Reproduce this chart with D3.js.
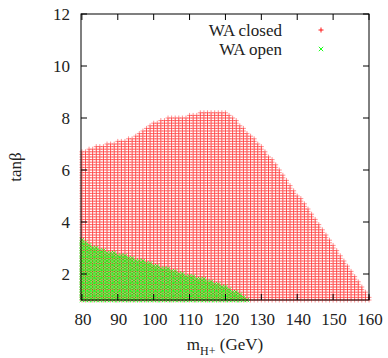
<!DOCTYPE html>
<html>
<head>
<meta charset="utf-8">
<script src="https://cdn.jsdelivr.net/npm/d3@7"></script>
<style>
  body { margin: 0; background: #fff; }
</style>
</head>
<body>
<svg id="chart" width="388" height="358" font-family="'Liberation Serif', 'DejaVu Serif', serif"></svg>
<script>
// scan grid in m_H+ (GeV), 1 GeV steps
const massScan = d3.range(80, 161, 1);
// upper tanβ edge of the "WA closed" scan at each mass, 80..160
const closedMax = [6.7, 6.75, 6.8, 6.85, 6.9, 6.9, 6.95, 7.0, 7.0, 7.05,
  7.1, 7.1, 7.15, 7.2, 7.25, 7.3, 7.4, 7.5, 7.6, 7.7,
  7.8, 7.85, 7.9, 7.95, 8.0, 8.0, 8.0, 8.05, 8.05, 8.05,
  8.1, 8.1, 8.15, 8.2, 8.2, 8.25, 8.25, 8.25, 8.25, 8.2,
  8.2, 8.15, 8.05, 7.9, 7.75, 7.6, 7.47, 7.33, 7.2, 7.05,
  6.9, 6.77, 6.58, 6.4, 6.2, 6.02, 5.83, 5.64, 5.46, 5.27,
  5.08, 4.9, 4.7, 4.52, 4.33, 4.15, 3.96, 3.76, 3.55, 3.35,
  3.15, 2.95, 2.75, 2.55, 2.35, 2.15, 1.95, 1.75, 1.55, 1.35, 1.15];
// upper tanβ edge of the "WA open" scan, 80..126
const openMax = [3.3, 3.22, 3.15, 3.07, 3.0, 2.93, 2.9, 2.87, 2.84, 2.8,
  2.77, 2.73, 2.7, 2.66, 2.63, 2.59, 2.55, 2.5, 2.45, 2.4,
  2.36, 2.32, 2.28, 2.24, 2.2, 2.16, 2.12, 2.07, 2.02, 1.98,
  1.95, 1.91, 1.88, 1.84, 1.8, 1.75, 1.7, 1.65, 1.6, 1.55,
  1.5, 1.45, 1.38, 1.3, 1.2, 1.12, 1.05];
const tanbMin = 1.0, tanbStep = 0.1;
const xTicks = [80, 90, 100, 110, 120, 130, 140, 150, 160];
const yTicks = [2, 4, 6, 8, 10, 12];
const seriesNames = ["WA closed", "WA open"];

const svg = d3.select("#chart");
const pLeft = 81, pRight = 369, pTop = 14, pBottom = 300;

const x = d3.scaleLinear().domain([79.75, 160]).range([pLeft, pRight]);
const y = d3.scaleLinear().domain([1, 12]).range([pBottom, pTop]);

function scanPoints(maxArr) {
  let pts = [];
  maxArr.forEach((mx, i) => {
    for (let k = 0; tanbMin + k * tanbStep <= mx + 1e-9; k++) {
      pts.push([massScan[i], tanbMin + k * tanbStep]);
    }
  });
  return pts;
}

const plusPath = "M-2.5,0H2.5M0,-2.5V2.5";
const crossPath = "M-2.2,-2.2L2.2,2.2M-2.2,2.2L2.2,-2.2";

svg.append("g")
  .selectAll("path")
  .data(scanPoints(closedMax))
  .enter().append("path")
    .attr("transform", d => "translate(" + x(d[0]) + "," + y(d[1]) + ")")
    .attr("d", plusPath)
    .attr("stroke", "#ff0000")
    .attr("stroke-opacity", 0.55)
    .attr("stroke-width", 0.8)
    .attr("fill", "none");

svg.append("g")
  .selectAll("path")
  .data(scanPoints(openMax))
  .enter().append("path")
    .attr("transform", d => "translate(" + x(d[0]) + "," + y(d[1]) + ")")
    .attr("d", crossPath)
    .attr("stroke", "#00ff00")
    .attr("stroke-opacity", 0.85)
    .attr("stroke-width", 0.9)
    .attr("fill", "none");

// frame
svg.append("rect")
  .attr("x", pLeft).attr("y", pTop)
  .attr("width", pRight - pLeft).attr("height", pBottom - pTop)
  .attr("fill", "none").attr("stroke", "#000").attr("stroke-width", 1);

// ticks (inward, mirrored)
const tickLen = 6;
xTicks.forEach(t => {
  svg.append("line").attr("x1", x(t)).attr("x2", x(t))
    .attr("y1", pBottom).attr("y2", pBottom - tickLen).attr("stroke", "#000");
  svg.append("line").attr("x1", x(t)).attr("x2", x(t))
    .attr("y1", pTop).attr("y2", pTop + tickLen).attr("stroke", "#000");
  svg.append("text").attr("x", x(t) + 1).attr("y", 325)
    .attr("text-anchor", "middle").attr("font-size", 17).attr("fill", "#222").text(t);
});
yTicks.forEach(t => {
  svg.append("line").attr("x1", pLeft).attr("x2", pLeft + tickLen)
    .attr("y1", y(t)).attr("y2", y(t)).attr("stroke", "#000");
  svg.append("line").attr("x1", pRight).attr("x2", pRight - tickLen)
    .attr("y1", y(t)).attr("y2", y(t)).attr("stroke", "#000");
  svg.append("text").attr("x", 70).attr("y", y(t) + 6)
    .attr("text-anchor", "end").attr("font-size", 17).attr("fill", "#222").text(t);
});

// axis labels
const xl = svg.append("text").attr("x", 225).attr("y", 350)
  .attr("text-anchor", "middle").attr("font-size", 17).attr("fill", "#222");
xl.append("tspan").text("m");
xl.append("tspan").attr("dy", 5).attr("font-size", 12).text("H+");
xl.append("tspan").attr("dy", -5).text(" (GeV)");

svg.append("text")
  .attr("transform", "translate(21,167) rotate(-90)")
  .attr("text-anchor", "middle").attr("font-size", 17).attr("fill", "#222").text("tanβ");

// legend
const legend = svg.append("g");
seriesNames.forEach((name, i) => {
  const ly = 30 + i * 19;
  legend.append("text").attr("x", 282).attr("y", ly + 6)
    .attr("text-anchor", "end").attr("font-size", 17).attr("fill", "#222").text(name);
  legend.append("path")
    .attr("transform", "translate(321," + ly + ")")
    .attr("d", i === 0 ? plusPath : crossPath)
    .attr("stroke", i === 0 ? "#ff0000" : "#00ff00")
    .attr("stroke-width", 0.9).attr("fill", "none");
});
</script>
</body>
</html>
